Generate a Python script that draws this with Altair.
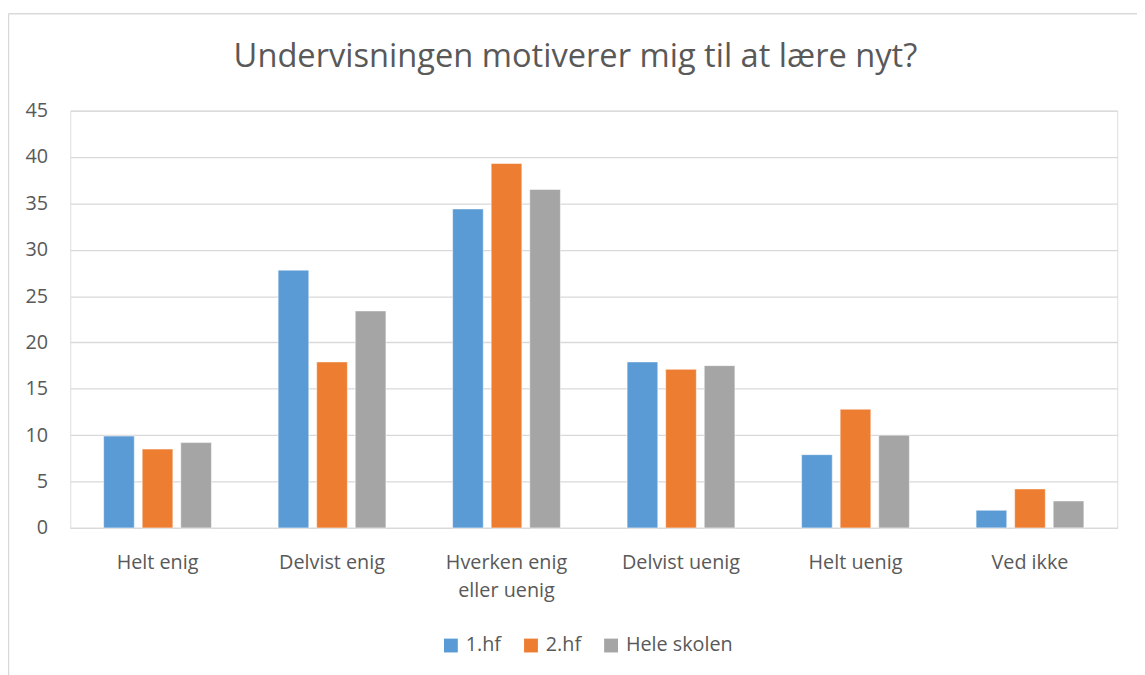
import altair as alt
import pandas as pd

categories = ["Helt enig", "Delvist enig", "Hverken enig eller uenig",
              "Delvist uenig", "Helt uenig", "Ved ikke"]
series = ["1.hf", "2.hf", "Hele skolen"]
values_1hf = [9.9, 27.8, 34.4, 17.9, 7.9, 1.9]
values_2hf = [8.5, 17.9, 39.3, 17.1, 12.8, 4.2]
values_hele = [9.2, 23.4, 36.5, 17.5, 10.0, 2.9]
colors = ["#5B9BD5", "#ED7D31", "#A5A5A5"]
y_ticks = [0, 5, 10, 15, 20, 25, 30, 35, 40, 45]
title_text = "Undervisningen motiverer mig til at lære nyt?"

rows = []
for s, vals in zip(series, [values_1hf, values_2hf, values_hele]):
    for c, v in zip(categories, vals):
        rows.append({"Kategori": c, "Serie": s, "Værdi": v})
df = pd.DataFrame(rows)

FONT = "Open Sans"
TXT = "#595959"
GRID = "#D9D9D9"
W, H = 1059, 422

bars = alt.Chart(df).mark_bar(stroke="white", strokeWidth=0.5).encode(
    x=alt.X("Kategori:N", sort=categories, title=None,
            scale=alt.Scale(paddingInner=0.337, paddingOuter=0.1685),
            axis=alt.Axis(labelAngle=0, labelFontSize=20, labelColor=TXT, labelFont=FONT,
                          labelPadding=25, ticks=False, domainColor=GRID, domainWidth=1.5,
                          labelLineHeight=28,
                          labelExpr="datum.value == 'Hverken enig eller uenig' ? ['Hverken enig', 'eller uenig'] : datum.value")),
    xOffset=alt.XOffset("Serie:N", sort=series,
                        scale=alt.Scale(paddingInner=0.205, paddingOuter=0.1025)),
    y=alt.Y("Værdi:Q", title=None,
            scale=alt.Scale(domain=[0, 45], nice=False),
            axis=alt.Axis(values=y_ticks, labelFontSize=20, labelColor=TXT, labelFont=FONT,
                          labelPadding=23, ticks=False, domain=False, gridColor=GRID, gridWidth=1.3)),
    color=alt.Color("Serie:N", sort=series,
                    scale=alt.Scale(domain=series, range=colors),
                    legend=alt.Legend(title=None, orient="none", direction="horizontal",
                                      legendX=375, legendY=531, symbolType="square",
                                      symbolSize=196, symbolStrokeWidth=0,
                                      labelFontSize=20, labelColor=TXT, labelFont=FONT,
                                      labelOffset=5, columnPadding=20)),
)

frame_left = alt.Chart(pd.DataFrame({"a": [0]})).mark_rule(color=GRID, strokeWidth=1.5).encode(
    x=alt.value(-62.5), y=alt.value(-98), y2=alt.value(H + 200))
frame_top = alt.Chart(pd.DataFrame({"a": [0]})).mark_rule(color=GRID, strokeWidth=1.5).encode(
    x=alt.value(-62.5), x2=alt.value(W + 200), y=alt.value(-98))
title = alt.Chart(pd.DataFrame({"t": [title_text]})).mark_text(
    font=FONT, fontSize=33, color=TXT, align="center", baseline="alphabetic").encode(
    text="t:N", x=alt.value(511), y=alt.value(-44))

chart = alt.layer(frame_left, frame_top, title, bars).properties(
    width=W, height=H,
    autosize=alt.AutoSizeParams(type="none"),
    padding={"left": 63, "top": 100, "right": 20, "bottom": 150},
).configure_view(stroke=None).configure(background="white")

chart.save("out.html", embed_options={"renderer": "svg", "actions": False})
